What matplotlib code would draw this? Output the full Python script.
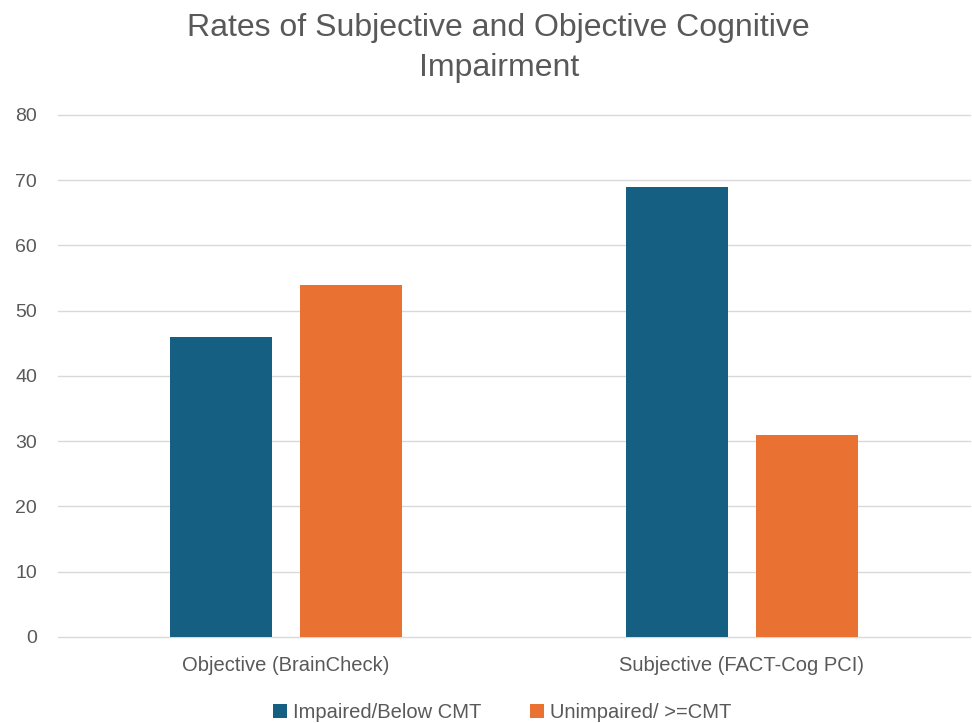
import matplotlib.pyplot as plt
import numpy as np

categories = ["Objective (BrainCheck)", "Subjective (FACT-Cog PCI)"]
impaired = [46, 69]
unimpaired = [54, 31]
series_labels = ["Impaired/Below CMT", "Unimpaired/ >=CMT"]
y_ticks = [0, 10, 20, 30, 40, 50, 60, 70, 80]

BLUE = "#156082"
ORANGE = "#E97132"
TEXT = "#595959"
GRID = "#D9D9D9"

plt.rcParams['font.family'] = ['Liberation Sans', 'DejaVu Sans']

fig = plt.figure(figsize=(9.72, 7.23), dpi=100)
ax = fig.add_axes([0.0597, 0.119, 0.938, 0.722])

x = np.arange(len(categories))
w = 0.224
off = 0.143
ax.bar(x - off, impaired, width=w, color=BLUE, label=series_labels[0], zorder=3)
ax.bar(x + off, unimpaired, width=w, color=ORANGE, label=series_labels[1], zorder=3)

ax.set_xlim(-0.5, 1.5)
ax.set_ylim(0, 80)
ax.set_yticks(y_ticks)
ax.set_xticks(x)
ax.set_xticklabels(categories)
ax.tick_params(axis='y', length=0, pad=15, labelsize=14, labelcolor=TEXT)
ax.tick_params(axis='x', length=0, pad=14, labelsize=14.5, labelcolor=TEXT)
ax.grid(axis='y', color=GRID, linewidth=1, zorder=0)
for gl in ax.get_ygridlines():
    gl.set_clip_on(False)
for s in ax.spines.values():
    s.set_visible(False)

fig.suptitle("Rates of Subjective and Objective Cognitive\nImpairment",
             x=0.513, y=0.982, fontsize=23, color=TEXT, linespacing=1.45)

ax.legend(loc='lower center', bbox_to_anchor=(0.4875, -0.197), ncol=2, frameon=False,
          fontsize=14.5, labelcolor=TEXT, handlelength=0.7, handleheight=0.7,
          handletextpad=0.3, columnspacing=2.4)

fig.savefig("out.png", dpi=100, facecolor='white')
